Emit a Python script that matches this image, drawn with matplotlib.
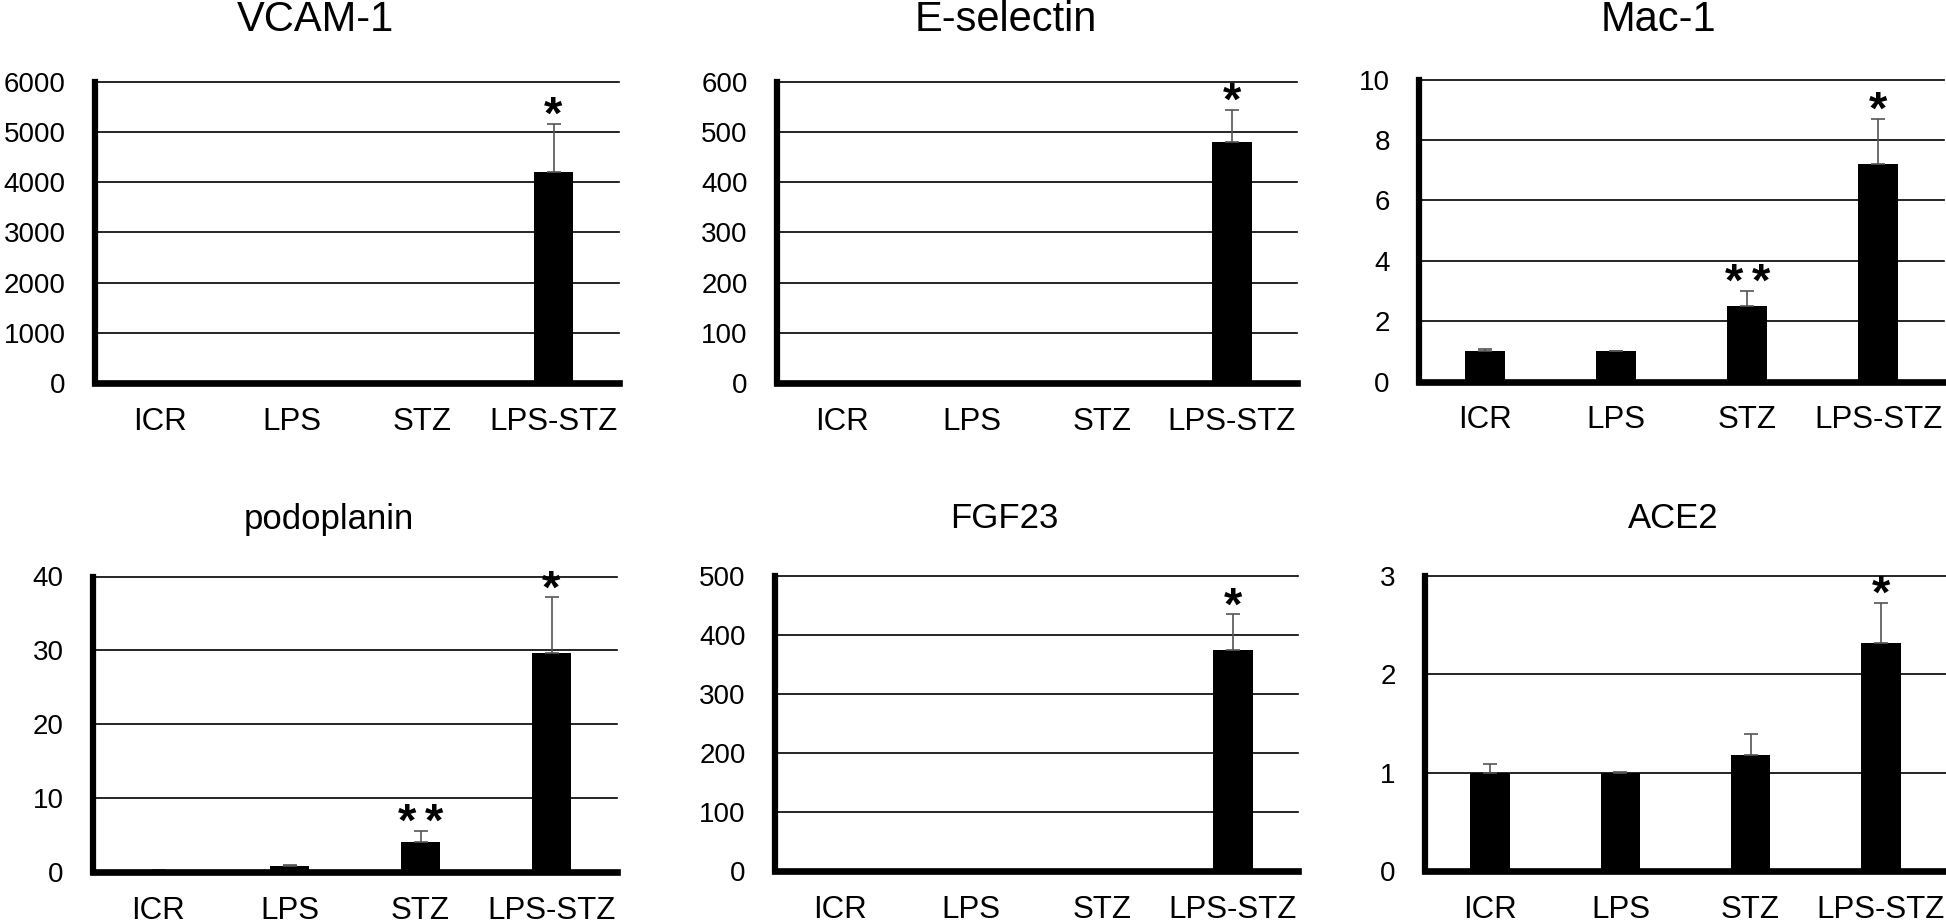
import numpy as np
import matplotlib
matplotlib.use("Agg")
import matplotlib.pyplot as plt

plt.rcParams['font.family'] = ['Liberation Sans', 'DejaVu Sans']

# ---- data ----
groups = ["ICR", "LPS", "STZ", "LPS-STZ"]

vcam = [1, 1, 1, 4200]
vcam_err = [0, 0, 0, 970]
esel = [1, 1, 1, 480]
esel_err = [0, 0, 0, 65]
mac1 = [1.0, 1.0, 2.5, 7.2]
mac1_err = [0.07, 0.02, 0.5, 1.5]
podo = [0.2, 0.8, 4.0, 29.6]
podo_err = [0.05, 0.1, 1.6, 7.6]
fgf23 = [1, 1, 1, 375]
fgf23_err = [0, 0, 0, 60]
ace2 = [1.0, 1.0, 1.18, 2.32]
ace2_err = [0.09, 0.01, 0.21, 0.41]

stars_one = ["", "", "", "*"]
stars_two = ["", "", "**", "*"]

W, H = 1946, 923
fig = plt.figure(figsize=(W / 100, H / 100), dpi=100)

# panel: title, values, errors, stars, ymax, ystep, axes box in pixels (left, right, top, zero), title pos, title size
panels = [
    ("VCAM-1", vcam, vcam_err, stars_one, 6000, 1000, (95, 619, 82, 383), (315, 20), 30),
    ("E-selectin", esel, esel_err, stars_one, 600, 100, (777, 1297, 82, 383), (1006, 20), 30),
    ("Mac-1", mac1, mac1_err, stars_two, 10, 2, (1419, 1944, 79.5, 381.7), (1658, 20), 30),
    ("podoplanin", podo, podo_err, stars_two, 40, 10, (93, 617, 576.5, 872), (329, 520), 25),
    ("FGF23", fgf23, fgf23_err, stars_one, 500, 100, (775, 1298, 576, 871), (1004, 518), 25),
    ("ACE2", ace2, ace2_err, stars_one, 3, 1, (1425, 1946, 576, 871), (1673, 518), 25),
]

x = np.arange(len(groups))

for title, vals, errs, stars, ymax, ystep, box, tpos, tsize in panels:
    l, r, t, z = box
    ax = fig.add_axes([l / W, 1 - z / H, (r - l) / W, (z - t) / H])
    ax.set_xlim(-0.5, 3.5)
    ax.set_ylim(0, ymax)
    ticks = np.arange(0, ymax + ystep / 2, ystep)
    ax.set_yticks(ticks)
    ax.set_yticklabels([f"{v:g}" for v in ticks], fontsize=20)
    for v in ticks[1:]:
        ax.axhline(v, color="black", lw=1.2, zorder=1, clip_on=False)

    ax.bar(x, vals, width=0.305, color="black", zorder=3,
           yerr=[np.zeros(len(vals)), errs],
           error_kw=dict(ecolor="#555555", elinewidth=1.2, capsize=4.7, capthick=1.2, zorder=4))

    # significance marks, one text per asterisk so they can be spaced like the original
    for xi, v, e, s in zip(x, vals, errs, stars):
        n = len(s)
        for k in range(n):
            dx = (k - (n - 1) / 2) * 19.5
            ax.annotate("*", (xi, v + e), xytext=(dx, 5), textcoords="offset points",
                        ha="center", va="center", fontsize=34, fontweight="bold",
                        clip_on=False, zorder=6)

    ax.set_xticks(x)
    ax.set_xticklabels(groups, fontsize=22.5)
    ax.tick_params(axis="x", length=0, pad=17)
    ax.tick_params(axis="y", length=0, pad=21)
    for side in ["top", "right"]:
        ax.spines[side].set_visible(False)
    ax.spines["left"].set_linewidth(4.5)
    ax.spines["bottom"].set_linewidth(4.8)
    ax.spines["bottom"].set_zorder(5)

    fig.text(tpos[0] / W, 1 - tpos[1] / H, title, ha="center", va="center", fontsize=tsize)

fig.savefig("out.png", dpi=100)
